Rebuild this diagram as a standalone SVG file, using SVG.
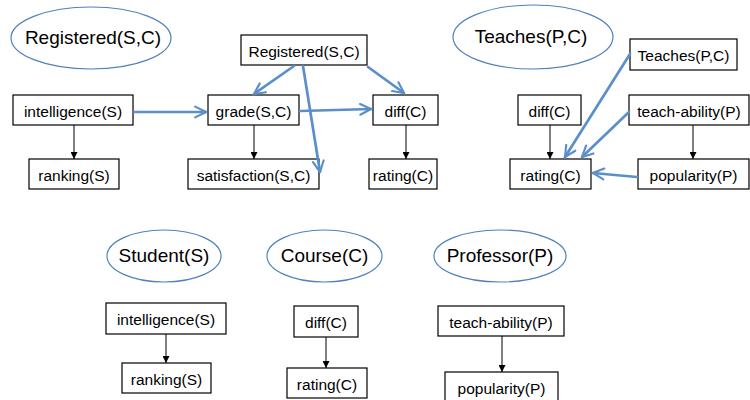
<svg xmlns="http://www.w3.org/2000/svg" width="750" height="400" viewBox="0 0 750 400">
<defs>
<style>
.box rect{fill:#fff;stroke:#000;stroke-width:1.2}
.box text{font-family:"Liberation Sans",Arial,sans-serif;font-size:15.5px;fill:#000;text-anchor:middle}
.ell ellipse{fill:#fff;stroke:#4f81bd;stroke-width:1.2}
.ell text{font-family:"Liberation Sans",Arial,sans-serif;font-size:19px;fill:#000;text-anchor:middle}
.k{stroke:#000;stroke-width:1;fill:none;marker-end:url(#ah)}
.b{stroke:#5b8fc9;stroke-width:2.7;fill:none;marker-end:url(#bh);stroke-linecap:round}
</style>
<marker id="ah" viewBox="0 0 10 10" refX="10" refY="5" markerWidth="7" markerHeight="7" markerUnits="userSpaceOnUse" orient="auto"><path d="M0,0 L10,5 L0,10 z" fill="#000"/></marker>
<marker id="bh" viewBox="0 0 10 10" refX="9" refY="5" markerWidth="5" markerHeight="5" orient="auto"><path d="M1,1 L9,5 L1,9" fill="none" stroke="#5b8fc9" stroke-width="1.6" stroke-linejoin="miter" stroke-linecap="round"/></marker>
</defs>

<g id="e-registered" class="ell"><ellipse cx="91" cy="38" rx="80" ry="31"/><text x="93" y="43.5">Registered(S,C)</text></g>
<g id="e-teaches" class="ell"><ellipse cx="533" cy="37" rx="80" ry="32"/><text x="531" y="42.5">Teaches(P,C)</text></g>
<g id="e-student" class="ell"><ellipse cx="164" cy="256" rx="57" ry="26"/><text x="164" y="262">Student(S)</text></g>
<g id="e-course" class="ell"><ellipse cx="324.5" cy="256" rx="57.5" ry="26"/><text x="324.5" y="262">Course(C)</text></g>
<g id="e-professor" class="ell"><ellipse cx="500" cy="256" rx="66" ry="26"/><text x="500" y="262">Professor(P)</text></g>

<g id="n-reg" class="box"><rect x="241" y="35" width="126" height="30"/><text x="304" y="56.5">Registered(S,C)</text></g>
<g id="n-int1" class="box"><rect x="13" y="95" width="120" height="30"/><text x="73" y="116.5">intelligence(S)</text></g>
<g id="n-grade" class="box"><rect x="208" y="95" width="91" height="30"/><text x="253.5" y="116.5">grade(S,C)</text></g>
<g id="n-diff1" class="box"><rect x="373" y="95" width="65" height="30"/><text x="405.5" y="116.5">diff(C)</text></g>
<g id="n-rank1" class="box"><rect x="29" y="159" width="90" height="30"/><text x="74" y="180.5">ranking(S)</text></g>
<g id="n-sat" class="box"><rect x="188" y="159" width="131" height="30"/><text x="253.5" y="180.5">satisfaction(S,C)</text></g>
<g id="n-rat1" class="box"><rect x="369" y="159" width="68" height="30"/><text x="403" y="180.5">rating(C)</text></g>

<g id="n-teaches" class="box"><rect x="630" y="39" width="107" height="31"/><text x="683.5" y="61">Teaches(P,C)</text></g>
<g id="n-diff2" class="box"><rect x="518" y="95" width="63" height="30"/><text x="549.5" y="116.5">diff(C)</text></g>
<g id="n-teach1" class="box"><rect x="629" y="95" width="120" height="30"/><text x="689" y="116.5">teach-ability(P)</text></g>
<g id="n-rat2" class="box"><rect x="510" y="159" width="81" height="30"/><text x="550.5" y="180.5">rating(C)</text></g>
<g id="n-pop1" class="box"><rect x="638" y="159" width="111" height="30"/><text x="693.5" y="180.5">popularity(P)</text></g>

<g id="n-int2" class="box"><rect x="106" y="303" width="120" height="31"/><text x="166" y="325">intelligence(S)</text></g>
<g id="n-rank2" class="box"><rect x="122" y="363" width="89" height="30"/><text x="166.5" y="384.5">ranking(S)</text></g>
<g id="n-diff3" class="box"><rect x="294" y="306" width="64" height="31"/><text x="326" y="328">diff(C)</text></g>
<g id="n-rat3" class="box"><rect x="287" y="368" width="80" height="30"/><text x="327" y="389.5">rating(C)</text></g>
<g id="n-teach2" class="box"><rect x="438" y="306" width="126" height="30"/><text x="501" y="327.5">teach-ability(P)</text></g>
<g id="n-pop2" class="box"><rect x="445" y="372" width="113" height="30"/><text x="501.5" y="393.5">popularity(P)</text></g>

<g id="connectors">
<line class="k" x1="74" y1="125" x2="74" y2="159"/>
<line class="k" x1="254" y1="125" x2="254" y2="159"/>
<line class="k" x1="406" y1="125" x2="406" y2="159"/>
<line class="k" x1="550" y1="125" x2="550" y2="159"/>
<line class="k" x1="693" y1="125" x2="693" y2="159"/>
<line class="k" x1="166" y1="334" x2="166" y2="363"/>
<line class="k" x1="326" y1="337" x2="326" y2="368"/>
<line class="k" x1="502" y1="336" x2="502" y2="372"/>

<line class="b" x1="134" y1="112" x2="206" y2="112"/>
<line class="b" x1="300" y1="111" x2="371" y2="109"/>
<line class="b" x1="294" y1="66" x2="254" y2="94"/>
<line class="b" x1="303" y1="66" x2="320" y2="172"/>
<line class="b" x1="368" y1="67" x2="404" y2="93"/>
<line class="b" x1="630" y1="54" x2="565" y2="157"/>
<line class="b" x1="629" y1="112" x2="582" y2="157"/>
<line class="b" x1="637" y1="177" x2="593" y2="173"/>
</g>
</svg>
